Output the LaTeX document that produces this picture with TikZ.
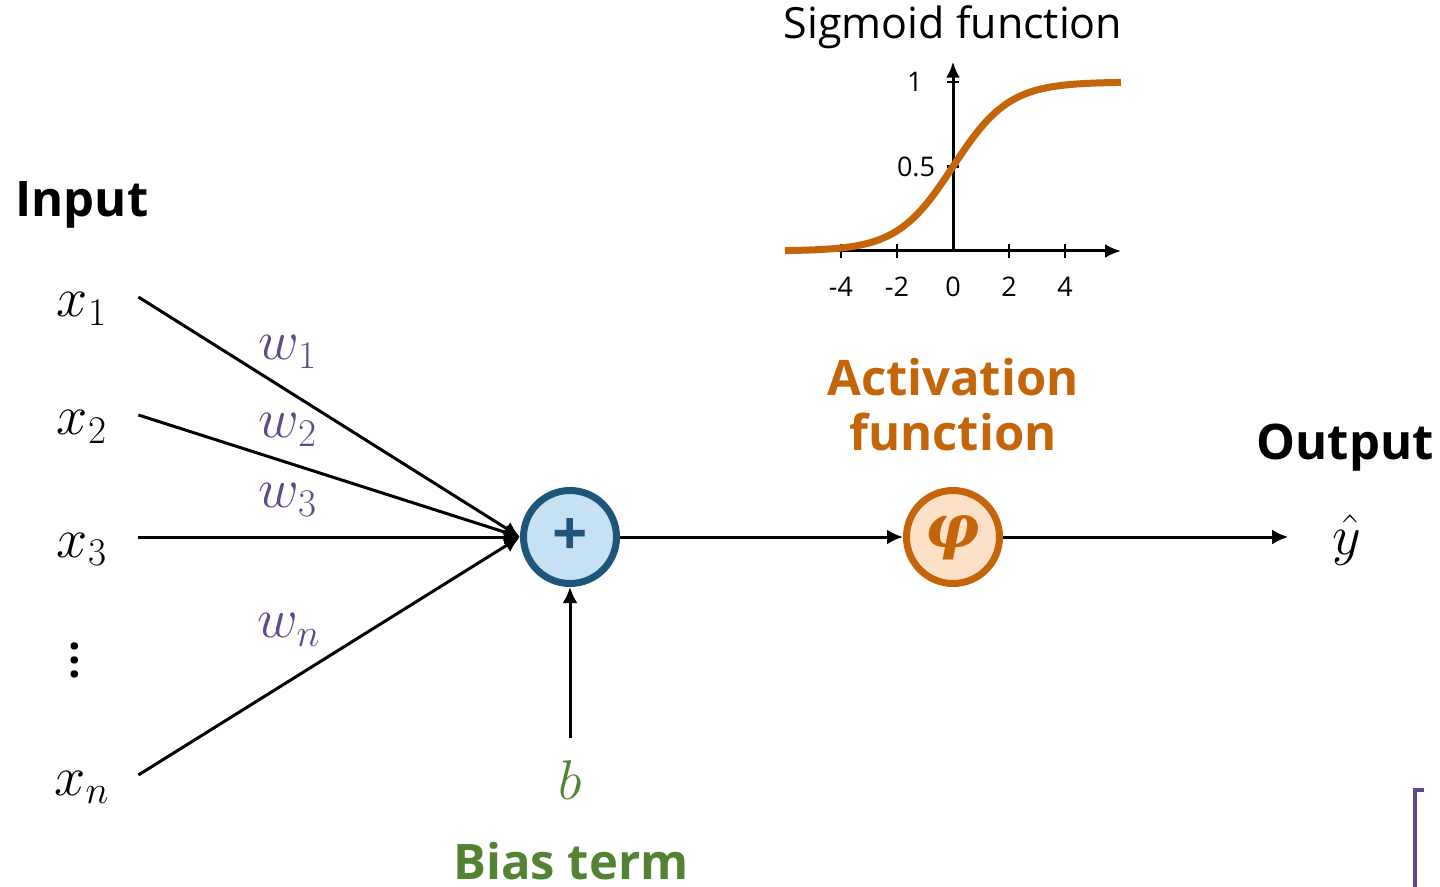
\RequirePackage{fix-cm}
\documentclass[tikz,border=0pt]{standalone}
\usepackage{amsmath}
\usepackage{fontspec}
\setmainfont{Open Sans}
\newfontfamily\phifont{DejaVu Serif}
\usetikzlibrary{arrows.meta,positioning,calc}
\definecolor{percsumedge}{RGB}{30,85,122}
\definecolor{percsumfill}{RGB}{197,225,243}
\definecolor{percactedge}{RGB}{196,101,10}
\definecolor{percactfill}{RGB}{252,224,199}
\definecolor{percweight}{RGB}{96,73,140}
\definecolor{percbias}{RGB}{84,130,53}
\tikzset{
  perc heading/.style={
    font=\fontsize{24.5}{27.5}\selectfont\bfseries,
    inner sep=0pt,
    align=center,
  },
  perc input/.style={
    font=\fontsize{28}{32}\selectfont,
    inner sep=0pt,
    minimum width=56pt,
    text height=20pt,
    text depth=0pt,
  },
  perc weight/.style={
    font=\fontsize{28}{32}\selectfont,
    text=percweight,
    inner sep=0pt,
  },
  perc unit/.style={
    circle,
    minimum size=46.5pt,
    line width=3.5pt,
    inner sep=0pt,
  },
  perc arrow/.style={
    -{Latex[length=8pt,width=7.5pt]},
    line width=1.5pt,
  },
  perc tick/.style={
    font=\fontsize{13.5}{16}\selectfont,
    inner sep=0pt,
  },
}

\begin{document}
\begin{tikzpicture}[x=0.5pt,y=-0.5pt]
  \useasboundingbox (0,0) rectangle (1440,887);

  % inputs and weights
  \node[perc heading] (inputs) at (82,205) {Input};
  \node[perc input] (x1) at (82,297) {$x_1$};
  \node[perc input] (x2) at (82,415) {$x_2$};
  \node[perc input] (x3) at (82,537) {$x_3$};
  \node[font=\fontsize{22}{7}\selectfont\bfseries, align=center, inner sep=0pt] (xdots) at (75,660) {.\\.\\.};
  \node[perc input] (xn) at (82,775) {$x_n$};
  \node[perc weight] (w1) at (288,352) {$w_1$};
  \node[perc weight] (w2) at (288,430) {$w_2$};
  \node[perc weight] (w3) at (288,500) {$w_3$};
  \node[perc weight] (wn) at (289,630) {$w_n$};

  % neuron
  \node[perc unit, draw=percsumedge, fill=percsumfill, text=percsumedge,
    font=\fontsize{31}{31}\selectfont\bfseries] (sum) at (570,537) {+};
  \node[perc unit, draw=percactedge, fill=percactfill, text=percactedge,
    font=\phifont\fontsize{30}{30}\selectfont\bfseries\itshape] (act) at (953,537) {φ};
  \node[perc heading, text=percactedge] (actlabel) at (953,405)
    {Activation\\function};
  \node[font=\fontsize{28}{32}\selectfont, inner sep=0pt] (out) at (1347,540) {$\hat{y}$};
  \node[perc heading] (outlabel) at (1345,448) {Output};
  \node[font=\fontsize{28}{32}\selectfont, text=percbias, inner sep=0pt,
    outer ysep=11.5pt] (b) at (570,780) {$b$};
  \node[perc heading, text=percbias] (biaslabel) at (571,861) {Bias term};

  \foreach \src in {x1,x2,x3,xn}
    \draw[perc arrow] (\src.east) -- (sum.west);
  \draw[perc arrow] (sum.east) -- (act.west);
  \draw[perc arrow, shorten >=22pt] (act.east) -- (act.east -| out.west);
  \draw[perc arrow] (b.north) -- (sum.south);

  % sigmoid inset
  \node[font=\fontsize{21.5}{24}\selectfont, inner sep=0pt] (sigtitle) at (953,27) {Sigmoid function};
  \begin{scope}[shift={(953,251)}, x=14pt, y=84.5pt]
    \draw[line width=1.5pt, -{Latex[length=8pt,width=7pt]}] (-6,0) -- (6,0);
    \draw[line width=1.5pt, -{Latex[length=8pt,width=7pt]}] (0,0) -- (0,1.12);
    \foreach \t in {-4,-2,2,4}
      \draw[line width=1.2pt] (\t,-0.04) -- (\t,0.04);
    \draw[line width=1.2pt] (-0.2,1) -- (0.2,1);
    \draw[line width=1.2pt] (-0.2,0.5) -- (0.2,0.5);
    \foreach \t [count=\k] in {-4,-2,0,2,4}
      \node[perc tick] (xtick\k) at (\t,-0.213) {\t};
    \node[perc tick] (ytick1) at (-1.36,1) {1};
    \node[perc tick] (ytick2) at (-1.32,0.5) {0.5};
    \draw[percactedge, line width=3.5pt]
      plot[domain=-6:6, samples=100, smooth] (\x,{1/(1+exp(-\x))});
  \end{scope}

  % cropped bracket at the edge
  \draw[percweight, line width=2pt] (1424,790) -- (1415,790) -- (1415,887);
\end{tikzpicture}
\end{document}
